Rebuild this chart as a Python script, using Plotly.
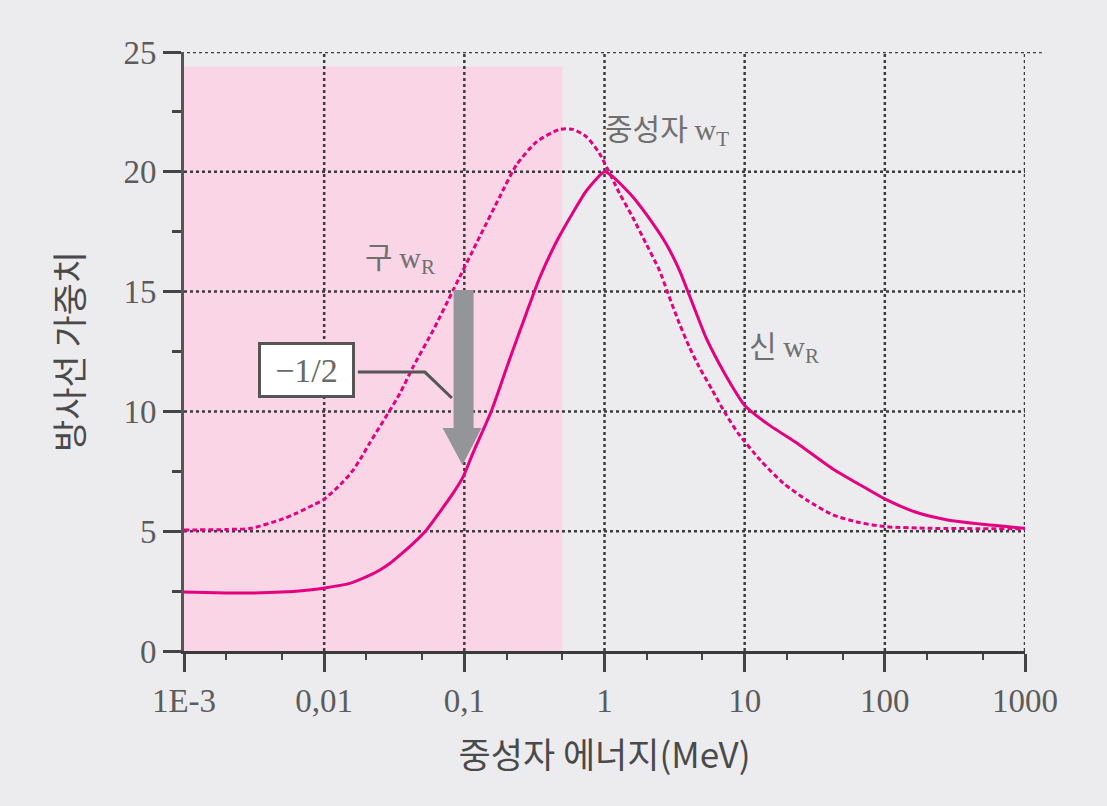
import plotly.graph_objects as go

# ---- data ----
energy_old = [0.001, 0.002, 0.003, 0.00483, 0.00636, 0.00834, 0.00984, 0.0119, 0.0137,
              0.0161, 0.0185, 0.0211, 0.0347, 0.0432, 0.0601, 0.0834, 0.129, 0.179,
              0.236, 0.329, 0.478, 0.596, 0.741, 0.92, 1.28, 1.59, 1.98, 2.46, 2.89,
              3.42, 4.02, 4.72, 5.86, 7.27, 9.0, 12.9, 18.9, 27.7, 42.6, 66, 100, 216, 1000]
wr_old = [5.05, 5.07, 5.12, 5.47, 5.75, 6.09, 6.30, 6.72, 7.07,
          7.55, 8.1, 8.67, 10.75, 11.87, 13.4, 15.07, 17.3, 18.96,
          20.3, 21.26, 21.77, 21.77, 21.47, 20.77, 19.1, 18.1, 17.0, 15.9, 14.8,
          13.67, 12.7, 11.87, 10.9, 9.92, 9.08, 7.97, 7.0, 6.3, 5.68, 5.36, 5.19, 5.12, 5.1]

energy_new = [0.001, 0.002, 0.003, 0.005, 0.0075, 0.00984, 0.01525, 0.0201, 0.025, 0.0295,
              0.0347, 0.0432, 0.0537, 0.0668, 0.0834, 0.0982, 0.116, 0.157, 0.211, 0.277,
              0.346, 0.456, 0.596, 0.741, 1.0, 1.146, 1.59, 2.21, 2.75, 3.42, 4.25, 5.28,
              6.57, 8.17, 10.0, 14.4, 24.6, 42.6, 73, 100, 165, 280, 480, 1000]
wr_new = [2.46, 2.42, 2.42, 2.46, 2.54, 2.62, 2.82, 3.10, 3.38, 3.66,
          4.0, 4.49, 5.05, 5.8, 6.6, 7.28, 8.3, 10.06, 12.2, 14.1,
          15.6, 17.1, 18.3, 19.2, 20.0, 19.8, 18.96, 17.85, 17.0, 15.9, 14.5, 13.1,
          12.0, 11.03, 10.25, 9.5, 8.6, 7.6, 6.8, 6.35, 5.8, 5.47, 5.3, 5.12]

x_tickvals = [0.001, 0.01, 0.1, 1, 10, 100, 1000]
x_ticktext = ["1E-3", "0,01", "0,1", "1", "10", "100", "1000"]
y_tickvals = [0, 5, 10, 15, 20, 25]

shade_x = [0.001, 0.5]
shade_top = 24.4

# arrow (-1/2) polygon, data coordinates
arrow_x = [0.0838, 0.1164, 0.1164, 0.1327, 0.097, 0.07, 0.0838, 0.0838]
arrow_y = [15.07, 15.07, 9.31, 9.31, 7.76, 9.31, 9.31, 15.07]
# connector from the "-1/2" box
conn_x = [0.0174, 0.0523, 0.0815]
conn_y = [11.64, 11.64, 10.56]

MAGENTA = "#e5007f"
BG = "#ececee"
PINK = "#f9d5e5"
TXT = "#5c5c5c"
GRID = "#3c3c3c"
KFONT = "Noto Sans CJK KR"
SFONT = "Liberation Serif"

fig = go.Figure()

fig.add_shape(type="rect", xref="x", yref="y", x0=shade_x[0], x1=shade_x[1],
              y0=0, y1=shade_top, fillcolor=PINK, line_width=0, layer="below")

grid_line = dict(color=GRID, width=2.5, dash="3px,3px")
for xv in x_tickvals[1:]:
    fig.add_shape(type="line", xref="x", yref="y", x0=xv, x1=xv, y0=0, y1=y_tickvals[-1],
                  line=grid_line, layer="between")
for yv in y_tickvals[1:-1]:
    fig.add_shape(type="line", xref="x", yref="y", x0=x_tickvals[0], x1=x_tickvals[-1],
                  y0=yv, y1=yv, line=grid_line, layer="between")
fig.add_shape(type="line", xref="paper", yref="y", x0=-0.025, x1=1.02,
              y0=y_tickvals[-1], y1=y_tickvals[-1], line=grid_line, layer="between")

fig.add_trace(go.Scatter(x=energy_old, y=wr_old, mode="lines",
                         line=dict(color=MAGENTA, width=3, dash="5px,3px", shape="spline", smoothing=0.6),
                         hoverinfo="skip", showlegend=False))
fig.add_trace(go.Scatter(x=energy_new, y=wr_new, mode="lines",
                         line=dict(color=MAGENTA, width=3, shape="spline", smoothing=0.6),
                         hoverinfo="skip", showlegend=False))

fig.add_trace(go.Scatter(x=arrow_x, y=arrow_y, mode="lines", fill="toself",
                         fillcolor="#939598", line=dict(width=0, color="#939598"),
                         hoverinfo="skip", showlegend=False))
fig.add_trace(go.Scatter(x=conn_x, y=conn_y, mode="lines",
                         line=dict(color="#555555", width=3),
                         hoverinfo="skip", showlegend=False))

fig.update_xaxes(type="log", range=[-3, 3], tickvals=x_tickvals, ticktext=x_ticktext,
                 ticks="outside", ticklen=18, tickwidth=3, tickcolor="#444",
                 showline=True, linecolor="#3a3a3a", linewidth=3,
                 showgrid=False,
                 minor=dict(ticks="outside", ticklen=6, tickwidth=2, tickcolor="#444", showgrid=False),
                 tickfont=dict(family=SFONT, size=33, color=TXT),
                 title=dict(text="중성자 에너지(MeV)", font=dict(family=KFONT, size=35, color="#4a4a4a"),
                            standoff=26),
                 zeroline=False)
fig.update_yaxes(range=[0, 25], tickvals=y_tickvals,
                 ticks="outside", ticklen=18, tickwidth=3, tickcolor="#444",
                 showline=True, linecolor="#555", linewidth=3,
                 showgrid=False,
                 minor=dict(tickvals=[2.5, 7.5, 12.5, 17.5, 22.5], ticks="outside", ticklen=9,
                            tickwidth=3, tickcolor="#444", showgrid=False),
                 tickfont=dict(family=SFONT, size=33, color=TXT),
                 title=dict(text="방사선 가중치", font=dict(family=KFONT, size=35, color="#4a4a4a"),
                            standoff=30),
                 zeroline=False)

ann_font = dict(family=KFONT, size=30, color="#707070")
def wlabel(k, sub):
    return (f"{k} <span style='font-family:{SFONT}'>w<sub>{sub}</sub></span>")

fig.add_annotation(x=-0.014, y=21.83, xref="x", yref="y", text=wlabel("중성자", "T"),
                   showarrow=False, xanchor="left", yanchor="middle", font=ann_font)
fig.add_annotation(x=-1.723, y=16.49, xref="x", yref="y", text=wlabel("구", "R"),
                   showarrow=False, xanchor="left", yanchor="middle", font=ann_font)
fig.add_annotation(x=1.02, y=12.77, xref="x", yref="y", text=wlabel("신", "R"),
                   showarrow=False, xanchor="left", yanchor="middle", font=ann_font)
fig.add_annotation(x=-2.126, y=11.73, xref="x", yref="y", text="−1/2",
                   showarrow=False, xanchor="center", yanchor="middle",
                   font=dict(family=SFONT, size=34, color="#6a6a6a"),
                   bgcolor="white", bordercolor="#555555", borderwidth=3, borderpad=3,
                   width=85, height=44)

fig.update_layout(width=1107, height=806, paper_bgcolor=BG, plot_bgcolor=BG,
                  margin=dict(l=184, r=82, t=52, b=155), showlegend=False)

fig.write_html("out.html")
